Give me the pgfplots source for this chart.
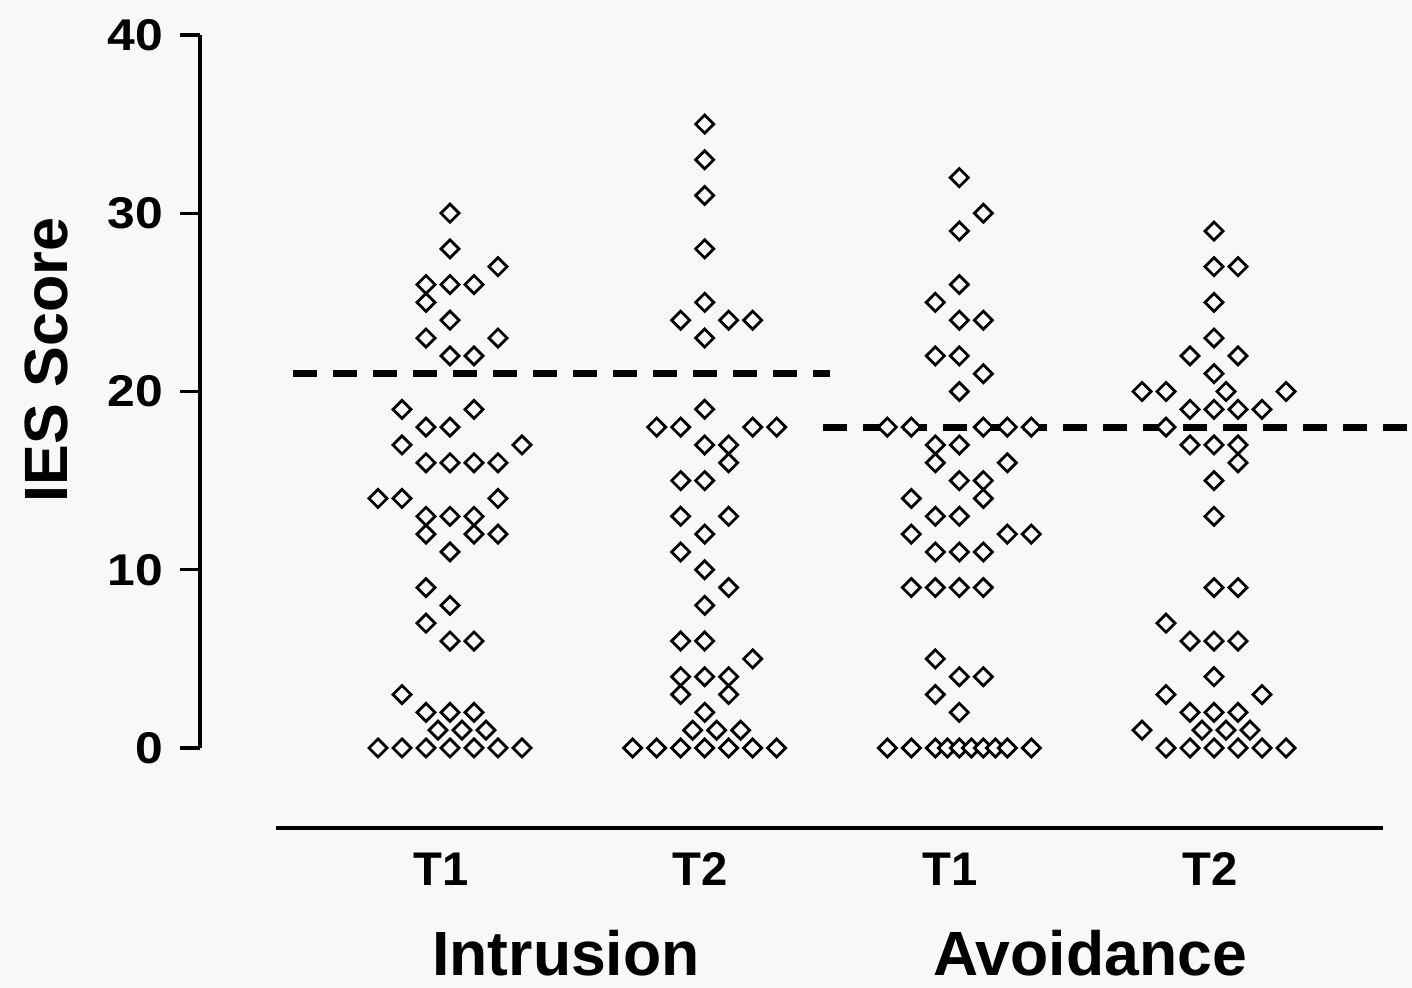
\documentclass[border=0pt]{standalone}
\usepackage{fontspec}
\setmainfont{Liberation Sans}
\newfontfamily\ticksfont{Liberation Sans}[FakeStretch=1.12]
\usepackage{pgfplots}
\usepackage{pgfplotstable}
\pgfplotsset{compat=1.18}

\definecolor{bgc}{RGB}{248,248,248}

% IES scores per subscale and time point.
% s = horizontal slot offset of a point within its column, v = score
\pgfplotstableread{
s v
0 30
0 28
2 27
-1 26
0 26
1 26
-1 25
0 24
-1 23
2 23
0 22
1 22
-2 19
1 19
-1 18
0 18
-2 17
3 17
-1 16
0 16
1 16
2 16
-3 14
-2 14
2 14
-1 13
0 13
1 13
-1 12
1 12
2 12
0 11
-1 9
0 8
-1 7
0 6
1 6
-2 3
-1 2
0 2
1 2
-0.5 1
0.5 1
1.5 1
-3 0
-2 0
-1 0
0 0
1 0
2 0
3 0
}\intrusionTone

\pgfplotstableread{
s v
0 35
0 33
0 31
0 28
0 25
-1 24
1 24
2 24
0 23
0 19
-2 18
-1 18
2 18
3 18
0 17
1 17
1 16
-1 15
0 15
-1 13
1 13
0 12
-1 11
0 10
1 9
0 8
-1 6
0 6
2 5
-1 4
0 4
1 4
-1 3
1 3
0 2
-0.5 1
0.5 1
1.5 1
-3 0
-2 0
-1 0
0 0
1 0
2 0
3 0
}\intrusionTtwo

\pgfplotstableread{
s v
0 32
1 30
0 29
0 26
-1 25
0 24
1 24
-1 22
0 22
1 21
0 20
-3 18
-2 18
1 18
2 18
3 18
-1 17
0 17
-1 16
2 16
0 15
1 15
-2 14
1 14
-1 13
0 13
-2 12
2 12
3 12
-1 11
0 11
1 11
-2 9
-1 9
0 9
1 9
-1 5
0 4
1 4
-1 3
0 2
-3 0
-2 0
-1 0
-0.5 0
0 0
0.5 0
1 0
1.5 0
2 0
3 0
}\avoidanceTone

\pgfplotstableread{
s v
0 29
0 27
1 27
0 25
0 23
-1 22
1 22
0 21
-3 20
-2 20
0.5 20
3 20
-1 19
0 19
1 19
2 19
-2 18
-1 17
0 17
1 17
1 16
0 15
0 13
0 9
1 9
-2 7
-1 6
0 6
1 6
0 4
-2 3
2 3
-1 2
0 2
1 2
-3 1
-0.5 1
0.5 1
1.5 1
-2 0
-1 0
0 0
1 0
2 0
3 0
}\avoidanceTtwo

\pgfplotsset{
  scorepts/.style={only marks, mark=square*, mark size=2.3pt,
    mark options={rotate=45, fill=bgc, draw=black, line width=1pt, solid}},
  refline/.style={no marks, black, line width=2.6pt, dash pattern=on 8.64pt off 5.76pt},
}

\begin{document}
\begin{tikzpicture}
\path[use as bounding box, fill=bgc] (0pt,0pt) rectangle (508.32pt,355.68pt);
\begin{axis}[
  at={(72pt,86.4pt)}, anchor=south west,
  scale only axis,
  width=436.32pt, height=256.68pt,
  xmin=0.01833, xmax=4.7775,
  ymin=0, ymax=40,
  clip=false,
  axis x line=none,
  axis y line*=left,
  y axis line style={line width=1.1pt, -},
  ytick={0,10,20,30,40},
  tick align=outside,
  major tick length=7.2pt,
  ytick style={line width=1.1pt, black},
  /pgf/number format/assume math mode=true,
  yticklabel style={font=\ticksfont\fontsize{16}{16}\selectfont\bfseries, inner sep=0pt, xshift=-6pt},
  ylabel={IES Score},
  ylabel style={font=\fontsize{22}{22}\selectfont\bfseries, at={(axis description cs:-0.127,0.5442)}, anchor=center, rotate=0},
]
\addplot[scorepts] table[x expr={1+0.09424*\thisrow{s}}, y=v] {\intrusionTone};
\addplot[scorepts] table[x expr={2+0.09424*\thisrow{s}}, y=v] {\intrusionTtwo};
\addplot[scorepts] table[x expr={3+0.09424*\thisrow{s}}, y=v] {\avoidanceTone};
\addplot[scorepts] table[x expr={4+0.09424*\thisrow{s}}, y=v] {\avoidanceTtwo};

% group reference lines
\addplot[refline] coordinates {(0.3835,21) (2.4921,21)};
\addplot[refline] coordinates {(2.4647,18) (4.7775,18)};

% category axis
\draw[line width=1.1pt] (axis cs:0.3167,-4.488) -- (axis cs:4.6642,-4.488);
\node[anchor=base, font=\fontsize{17}{17}\selectfont\bfseries] at (axis cs:0.9647,-7.686) {T1};
\node[anchor=base, font=\fontsize{17}{17}\selectfont\bfseries] at (axis cs:1.9817,-7.686) {T2};
\node[anchor=base, font=\fontsize{17}{17}\selectfont\bfseries] at (axis cs:2.9633,-7.686) {T1};
\node[anchor=base, font=\fontsize{17}{17}\selectfont\bfseries] at (axis cs:3.9843,-7.686) {T2};
\node[anchor=base, font=\fontsize{22.5}{22.5}\selectfont\bfseries] at (axis cs:1.4555,-12.79) {Intrusion};
\node[anchor=base, font=\fontsize{22.5}{22.5}\selectfont\bfseries] at (axis cs:3.513,-12.79) {Avoidance};
\end{axis}
\end{tikzpicture}
\end{document}
